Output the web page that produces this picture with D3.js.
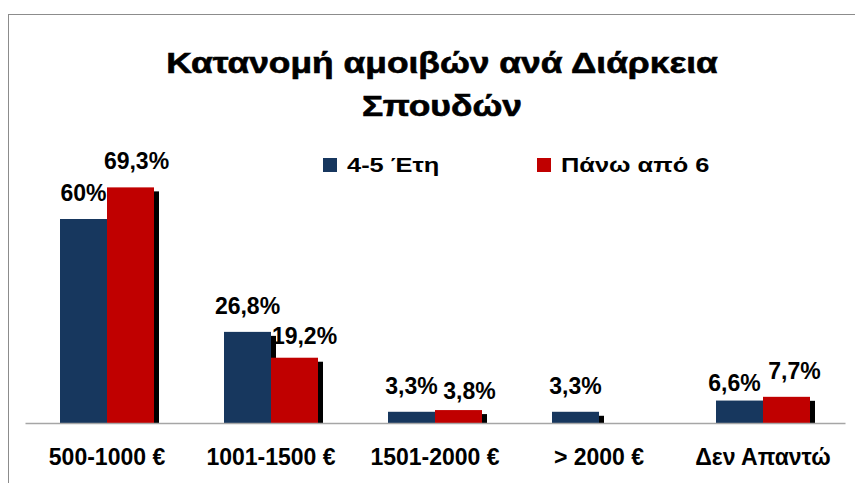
<!DOCTYPE html>
<html>
<head>
<meta charset="utf-8">
<script src="https://cdn.jsdelivr.net/npm/d3@7"></script>
<style>
  body { margin: 0; background: #fff; }
  svg { display: block; font-family: "Liberation Sans", Arial, sans-serif; }
</style>
</head>
<body>
<div id="chart"></div>
<script>
// chart data
const categories = ['500-1000 €', '1001-1500 €', '1501-2000 €', '> 2000 €', 'Δεν Απαντώ'];
const seriesNames = ['4-5 Έτη', 'Πάνω από 6'];
const years45 = [60, 26.8, 3.3, 3.3, 6.6];
const over6 = [69.3, 19.2, 3.8, null, 7.7];
const titleLines = ['Κατανομή αμοιβών ανά Διάρκεια', 'Σπουδών'];

const colors = ['#17375e', '#c00000'];
const width = 855;
const height = 483;

// label nudges so neighbouring labels don't collide (like excel does)
const labelShift = [
  [[0, 0], [0, 0], [0, 0], [0, 0], [-5, 8]],
  [[6, 0], [10, 4], [11, 7], [0, 0], [8, 0]]
];

const svg = d3.select('#chart')
  .append('svg')
  .attr('width', width)
  .attr('height', height);

// outer frame
svg.append('rect')
  .attr('x', 8.5).attr('y', 14.5)
  .attr('width', 900).attr('height', 600)
  .attr('fill', 'none')
  .attr('stroke', '#8c8c8c')
  .attr('stroke-width', 1);

// title (source font is stretched wide, so scale x)
svg.append('g')
  .selectAll('g')
  .data(titleLines)
  .enter()
  .append('g')
  .attr('transform', (d, i) => `translate(442,${72.5 + i * 43.5}) scale(1.22,1)`)
  .append('text')
  .attr('text-anchor', 'middle')
  .attr('font-size', 29)
  .attr('font-weight', 'bold')
  .attr('stroke', '#000')
  .attr('stroke-width', 0.6)
  .text(d => d);

const baseY = 423;
const x = d3.scaleBand().domain(categories).range([25, 845]);
const xs = d3.scaleBand().domain([0, 1]).range([35, 129]);
const y = d3.scaleLinear().domain([0, 80]).range([baseY, baseY - 80 * 3.4]);

const series = [years45, over6];
const fmt = v => String(v).replace('.', ',') + '%';

const bars = [];
series.forEach((vals, s) => {
  vals.forEach((v, i) => {
    if (v === null) return;
    bars.push({ s, i, v, cat: categories[i] });
  });
});

// shadows first so they sit behind every bar
svg.append('g')
  .selectAll('rect')
  .data(bars)
  .enter()
  .append('rect')
  .attr('x', d => x(d.cat) + xs(d.s) + 5)
  .attr('y', d => y(d.v) + 4)
  .attr('width', xs.bandwidth())
  .attr('height', d => Math.max(0, baseY - y(d.v) - 4))
  .attr('fill', '#000');

svg.append('g')
  .selectAll('rect')
  .data(bars)
  .enter()
  .append('rect')
  .attr('x', d => x(d.cat) + xs(d.s))
  .attr('y', d => y(d.v))
  .attr('width', xs.bandwidth())
  .attr('height', d => baseY - y(d.v))
  .attr('fill', d => colors[d.s]);

// axis
const axis = svg.append('g')
  .attr('transform', `translate(0,${baseY})`)
  .call(d3.axisBottom(x).tickSize(0).tickPadding(26));
axis.select('.domain').attr('stroke', '#a6a6a6').attr('stroke-width', 1.5);
axis.selectAll('text')
  .attr('font-family', '"Liberation Sans", Arial, sans-serif')
  .attr('font-size', 23)
  .attr('font-weight', 'bold')
  .attr('fill', '#000');

// value labels
svg.append('g')
  .selectAll('text')
  .data(bars)
  .enter()
  .append('text')
  .attr('x', d => x(d.cat) + xs(d.s) + xs.bandwidth() / 2 + labelShift[d.s][d.i][0])
  .attr('y', d => y(d.v) - 18 + labelShift[d.s][d.i][1])
  .attr('text-anchor', 'middle')
  .attr('font-size', 23)
  .attr('font-weight', 'bold')
  .text(d => fmt(d.v));

// legend
const legendX = [323, 537];
const legend = svg.append('g')
  .selectAll('g')
  .data(seriesNames)
  .enter()
  .append('g')
  .attr('transform', (d, i) => `translate(${legendX[i]},158)`);
legend.append('rect')
  .attr('width', 14).attr('height', 14)
  .attr('fill', (d, i) => colors[i]);
legend.append('text')
  .attr('transform', 'translate(24,14) scale(1.24,1)')
  .attr('font-size', 20.5)
  .attr('font-weight', 'bold')
  .text(d => d);
</script>
</body>
</html>
